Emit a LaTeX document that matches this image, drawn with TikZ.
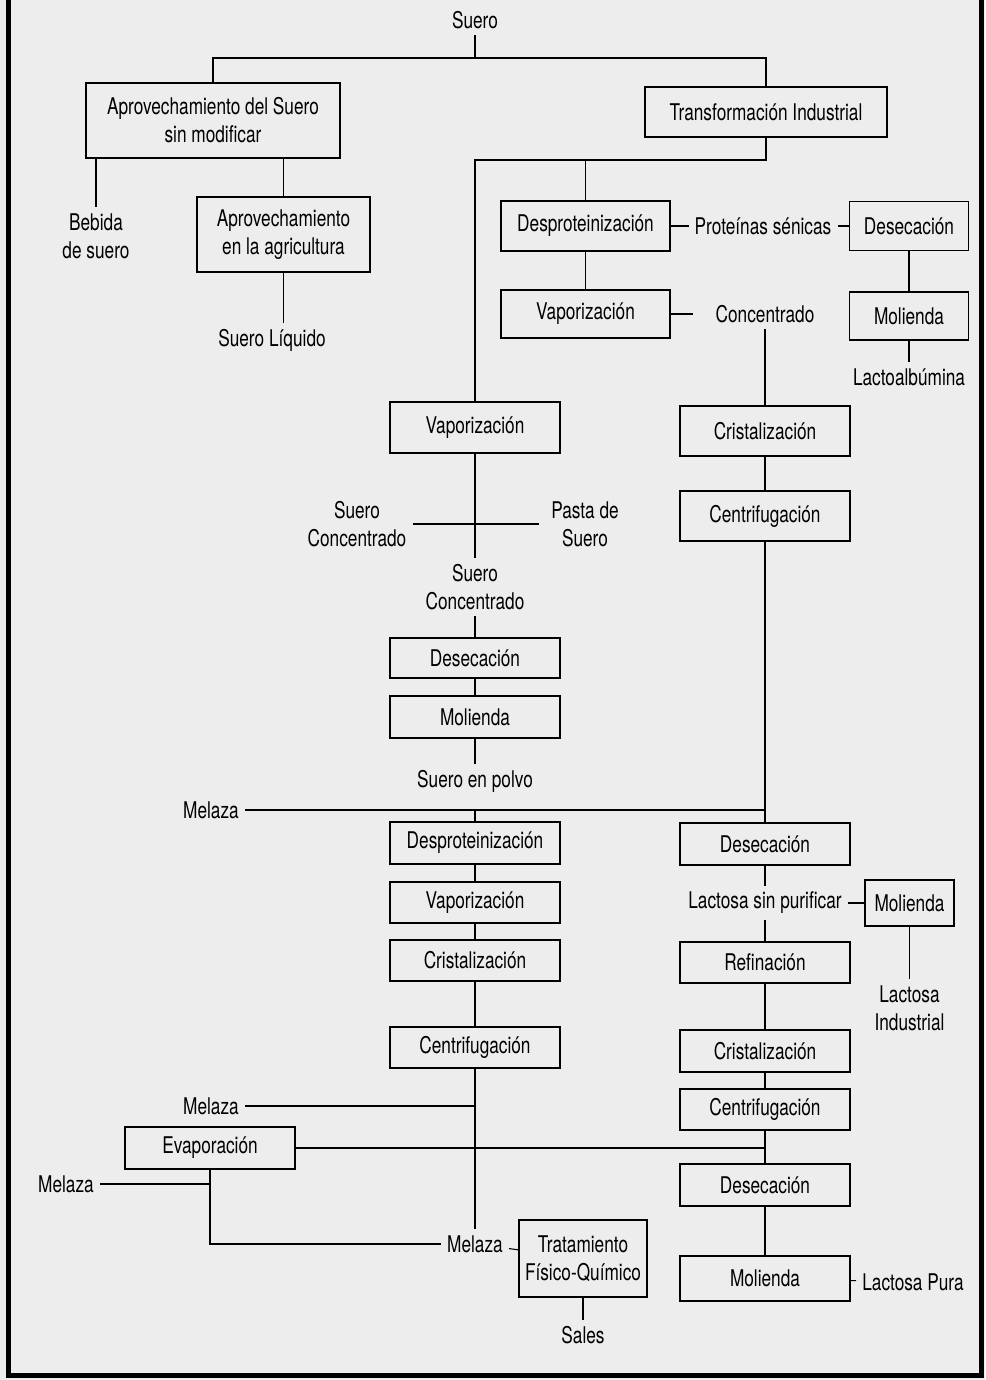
\documentclass[tikz,border=0pt]{standalone}
\usepackage{fontspec}
\setmainfont[FakeStretch=0.75]{TeX Gyre Heros}
\usepackage{xcolor}

\begin{document}
\begin{tikzpicture}[
  x=1pt, y=-1pt,
  every node/.style={font=\fontsize{23}{28}\selectfont},
  proc/.style={rectangle, draw, line width=1.1pt, minimum width=170pt, minimum height=42pt, align=center, inner sep=2pt},
  lbl/.style={align=center, inner sep=6pt},
  link/.style={line width=1.1pt}
]

% Page and frame
\useasboundingbox (0,0) rectangle (985,1380);
\fill[black!7] (0,0) rectangle (985,1380);
\draw[line width=5.5pt] (8.5,0) -- (8.5,1375.5) -- (981.5,1375.5) -- (981.5,0);

% Top: Suero and its two uses
\node[lbl] (suero) at (475,20) {Suero};
\node[proc, minimum width=254pt, minimum height=75pt] (aprov) at (213,120.5) {Aprovechamiento del Suero\\sin modificar};
\node[lbl] (bebida) at (96,236) {Bebida\\de suero};
\node[proc, minimum width=173pt, minimum height=75pt] (agri) at (283.5,234.5) {Aprovechamiento\\en la agricultura};
\node[lbl] (liquido) at (272,340) {Suero L\'iquido};
\node[proc, minimum width=242pt, minimum height=50pt] (transf) at (766,112) {Transformaci\'on Industrial};

% Proteins branch
\node[proc, minimum width=169pt, minimum height=50pt] (desprot) at (585.5,226) {Desproteinizaci\'on};
\node[lbl] (proteinas) at (763,226) {Prote\'inas s\'enicas};
\node[proc, minimum width=119pt, minimum height=49pt] (desecA) at (909,226) {Desecaci\'on};
\node[proc, minimum width=119pt, minimum height=48pt] (moliA) at (909,316) {Molienda};
\node[lbl] (lactoalb) at (909,377) {Lactoalb\'umina};
\node[proc, minimum width=169pt, minimum height=48pt] (vaporA) at (585.5,314) {Vaporizaci\'on};
\node[lbl, inner xsep=22pt] (concentr) at (765,314) {Concentrado};
\node[proc, minimum height=50pt] (cristA) at (765,431) {Cristalizaci\'on};
\node[proc, minimum height=50pt] (centA) at (765,516) {Centrifugaci\'on};

% Left column: whey concentrate and powder
\node[proc, minimum height=51pt] (vaporB) at (475,427.5) {Vaporizaci\'on};
\node[lbl] (sconcA) at (357,524) {Suero\\Concentrado};
\node[lbl, inner xsep=12pt] (pasta) at (585,524) {Pasta de\\Suero};
\node[lbl] (sconcB) at (475,587) {Suero\\Concentrado};
\node[proc, minimum height=40pt] (desecB) at (475,658) {Desecaci\'on};
\node[proc] (moliB) at (475,717) {Molienda};
\node[lbl] (polvo) at (475,781) {Suero en polvo};

% Left column: molasses treatment
\node[lbl] (melazaA) at (211,810) {Melaza};
\node[proc] (desprotB) at (475,843) {Desproteinizaci\'on};
\node[proc, minimum height=41pt] (vaporC) at (475,902.5) {Vaporizaci\'on};
\node[proc, minimum height=41pt] (cristB) at (475,960.5) {Cristalizaci\'on};
\node[proc, minimum height=41pt] (centB) at (475,1047.5) {Centrifugaci\'on};
\node[lbl] (melazaB) at (211,1106) {Melaza};
\node[proc] (evap) at (210,1148) {Evaporaci\'on};
\node[lbl] (melazaC) at (66,1184) {Melaza};
\node[lbl] (melazaD) at (475,1244) {Melaza};
\node[proc, minimum width=128pt, minimum height=77pt] (trat) at (583,1258.5) {Tratamiento\\F\'isico-Qu\'imico};
\node[lbl] (sales) at (583,1335) {Sales};

% Right column: lactose
\node[proc] (desecC) at (765,844) {Desecaci\'on};
\node[lbl] (sinpur) at (765,903) {Lactosa sin purificar};
\node[proc, minimum width=89pt, minimum height=46pt] (moliC) at (909.5,903) {Molienda};
\node[lbl] (lacind) at (909.5,1008) {Lactosa\\Industrial};
\node[proc, minimum height=41pt] (refin) at (765,962.5) {Refinaci\'on};
\node[proc] (cristC) at (765,1051) {Cristalizaci\'on};
\node[proc, minimum height=41pt] (centC) at (765,1109.5) {Centrifugaci\'on};
\node[proc] (desecD) at (765,1185) {Desecaci\'on};
\node[proc, minimum height=45pt] (moliD) at (765,1278.5) {Molienda};
\node[lbl] (pura) at (913,1282) {Lactosa Pura};

% Fork points
\coordinate (forkA) at (475,58);
\coordinate (forkB) at (475,160);

% Upper connectors
\draw[link] (suero) -- (forkA);
\draw[link] (aprov.north) |- (forkA) -| (transf.north);
\draw[link] (bebida.north |- aprov.south) -- (bebida);
\draw[link] (agri.north |- aprov.south) -- (agri);
\draw[link] (agri.south) -- (agri.south |- liquido.north);
\draw[link] (transf) |- (forkB) -- (vaporB);
\draw[link] (desprot.north |- forkB) -- (desprot);

% Proteins and concentrate
\draw[link] (desprot) -- (proteinas);
\draw[link] (proteinas) -- (desecA);
\draw[link] (desecA) -- (moliA) -- (lactoalb);
\draw[link] (desprot) -- (vaporA);
\draw[link] (vaporA) -- (concentr);
\draw[link] (concentr) -- (cristA) -- (centA) -- (desecC);

% Whey concentrate / powder
\draw[link] (vaporB) -- (sconcB) -- (desecB) -- (moliB) -- (polvo);
\draw[link] (sconcA) -- (pasta);

% Molasses back to the left column
\draw[link] (melazaA) -- (melazaA -| centA.south);
\draw[link] (desprotB.north |- melazaA) -- (desprotB);
\draw[link] (desprotB) -- (vaporC) -- (cristB) -- (centB) -- (melazaD);
\draw[link] (melazaB) -- (melazaB -| centB.south);
\draw[link] (evap) -- (evap -| centC.south);
\draw[link] (evap.south) |- (melazaD);
\draw[link] (melazaC) -- (melazaC -| evap.south);
\draw[link] (melazaD) -- (trat);
\draw[link] (trat) -- (sales);

% Lactose line
\draw[link] (desecC) -- (sinpur) -- (refin) -- (cristC) -- (centC) -- (desecD) -- (moliD);
\draw[link] (sinpur) -- (moliC);
\draw[link] (moliC) -- (lacind);
\draw[link] (moliD) -- (pura);

\end{tikzpicture}
\end{document}
